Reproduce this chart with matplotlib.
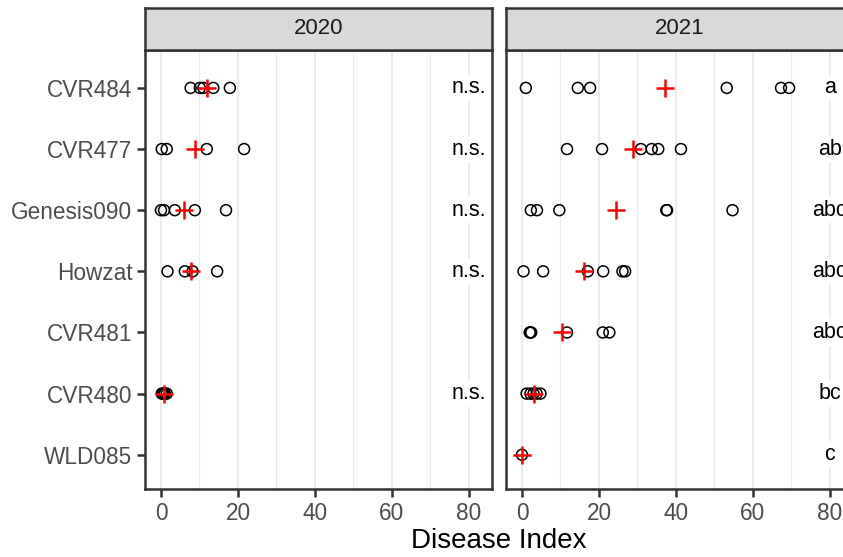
import matplotlib.pyplot as plt
import numpy as np

plt.rcParams['font.family'] = ['Liberation Sans', 'DejaVu Sans']

# cultivars from bottom to top of the y axis
cultivars = ['WLD085', 'CVR480', 'CVR481', 'Howzat', 'Genesis090', 'CVR477', 'CVR484']
years = ['2020', '2021']

di_2020 = [
    [],
    [0.2, 0.5, 0.8, 1.0, 1.5],
    [],
    [1.7, 6.2, 8.2, 14.6],
    [0.0, 0.8, 3.6, 8.8, 16.9],
    [0.2, 1.5, 11.9, 21.6],
    [7.7, 10.1, 11.0, 13.6, 17.9],
]
di_2021 = [
    [0.0],
    [1.2, 2.2, 3.0, 3.8, 4.8],
    [2.0, 2.2, 2.4, 11.7, 21.0, 22.7],
    [0.4, 5.5, 17.1, 21.1, 26.1, 26.8],
    [2.3, 3.9, 9.7, 37.5, 37.7, 54.7],
    [11.7, 20.8, 30.9, 33.7, 35.4, 41.3],
    [1.0, 14.5, 17.7, 53.2, 67.3, 69.4],
]
letters_2020 = ['', 'n.s.', '', 'n.s.', 'n.s.', 'n.s.', 'n.s.']
letters_2021 = ['c', 'bc', 'abc', 'abc', 'abc', 'ab', 'a']

W, H = 843, 557
fig = plt.figure(figsize=(W / 100, H / 100), dpi=100)

def box(x0, y0, x1, y1):
    # pixel box (top-left origin) -> figure fraction rect
    return [x0 / W, 1 - y1 / H, (x1 - x0) / W, (y1 - y0) / H]

border = '#333333'
pw = 347
panels = [(145, letters_2020, di_2020), (506, letters_2021, di_2021)]

for k, (left, letters, data) in enumerate(panels):
    ax = fig.add_axes(box(left, 50, left + pw, 489))
    ax.set_xlim(-4.15, 86.0)
    ax.set_ylim(0.44, len(cultivars) + 0.62)
    ax.set_xticks([0, 20, 40, 60, 80])
    ax.set_xticks([10, 30, 50, 70], minor=True)
    ax.grid(axis='x', which='major', color='#EBEBEB', lw=1.5, zorder=0)
    ax.grid(axis='x', which='minor', color='#EBEBEB', lw=0.8, zorder=0)
    ax.set_axisbelow(True)
    ax.set_yticks(range(1, len(cultivars) + 1))
    ax.set_yticklabels(cultivars)
    ax.tick_params(which='both', length=5.5, width=1.8, color=border,
                   labelsize=16.3, labelcolor='#4D4D4D', pad=3.5)
    ax.tick_params(which='minor', length=0)
    if k == 1:
        ax.tick_params(axis='y', left=False, labelleft=False)
    for s in ax.spines.values():
        s.set_color(border)
        s.set_linewidth(1.8)
        s.set_zorder(6)

    for i, vals in enumerate(data):
        if not vals:
            continue
        y = i + 1
        ax.scatter(vals, [y] * len(vals), s=62, facecolors='none',
                   edgecolors='black', linewidths=1.1, zorder=3)
        ax.scatter([np.mean(vals)], [y], marker='+', s=150, color='red',
                   linewidths=1.8, zorder=4)
    for i, lab in enumerate(letters):
        if lab:
            ax.text(80, i + 1, lab, ha='center', va='center', size=15.5,
                    color='black', zorder=5,
                    bbox=dict(fc='white', ec='none', pad=2))

    sax = fig.add_axes(box(left, 8, left + pw, 50))
    sax.set_facecolor('#D9D9D9')
    sax.set_xticks([])
    sax.set_yticks([])
    for s in sax.spines.values():
        s.set_color(border)
        s.set_linewidth(1.8)
    sax.text(0.5, 0.5, years[k], transform=sax.transAxes, ha='center',
             va='center', size=16, color='#1A1A1A')

fig.text(499 / W, 1 - 541 / H, 'Disease Index', ha='center', va='center',
         size=20, color='black')

fig.savefig('out.png', dpi=100)
